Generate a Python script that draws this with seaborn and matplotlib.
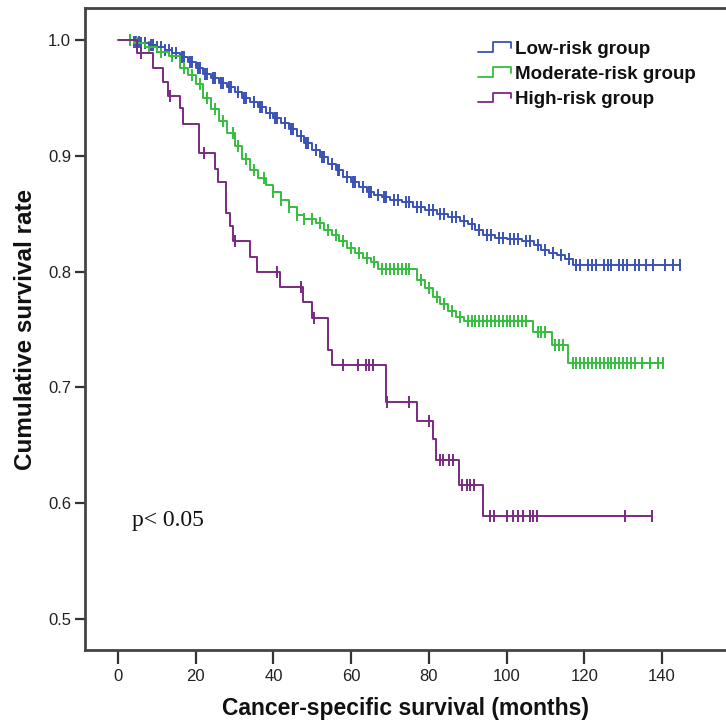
import numpy as np
import pandas as pd
import matplotlib
matplotlib.use("Agg")
import matplotlib.pyplot as plt
import seaborn as sns
from matplotlib.lines import Line2D
from matplotlib.legend_handler import HandlerBase

# ---------------- data ----------------
groups = ["Low-risk group", "Moderate-risk group", "High-risk group"]
colors = ["#3a52b8", "#35be3f", "#7a2a82"]

low_start, low_end = 2.3, 144.6
low_t = [4, 6, 8, 10, 12, 14, 16, 18, 20, 22, 24, 26, 28, 30, 32, 34, 36, 38, 40,
         42, 44, 46, 48, 50, 52, 54, 56, 58, 60, 62, 64, 66, 68, 70, 73, 76, 79,
         82, 85, 88, 90, 92, 94, 97, 100, 104, 107, 109, 111, 113, 115, 117]
low_s = [0.998, 0.997, 0.996, 0.994, 0.991, 0.989, 0.985, 0.981, 0.976, 0.971,
         0.967, 0.963, 0.959, 0.955, 0.950, 0.946, 0.942, 0.937, 0.933, 0.928,
         0.923, 0.917, 0.911, 0.905, 0.899, 0.893, 0.888, 0.882, 0.877, 0.873,
         0.869, 0.866, 0.864, 0.862, 0.860, 0.856, 0.853, 0.850, 0.847, 0.844,
         0.841, 0.836, 0.832, 0.829, 0.828, 0.826, 0.823, 0.819, 0.816, 0.814,
         0.811, 0.806]
low_cens = [3, 4, 4.5, 5.5, 6, 7, 8.5, 9, 10, 11, 12, 13, 14, 15, 16.5, 17, 18.5,
            19, 20.5, 21, 22.5, 23, 24.5, 25, 26.5, 27, 28.5, 29, 31, 32.5, 33, 35,
            36.5, 37, 39, 40.5, 41, 43, 44.5, 45, 47, 48.5, 49, 51, 52.5, 53, 55,
            56.5, 57, 59, 60.5, 61, 63, 64.5, 65, 67, 68.5, 69, 71, 72, 74, 75, 77,
            78, 80, 81, 83, 84, 86, 87, 89, 91, 93, 95, 96, 98, 99, 101, 102, 103,
            105, 106, 108, 110, 112, 114, 116, 118, 119, 121, 122, 123, 125, 126,
            127, 129, 130, 131, 133, 134, 136, 137.7, 140.8, 142.8, 144.6]

mod_start, mod_end = 2.3, 140.2
mod_t = [4, 7, 10, 13, 16, 18, 20, 22, 24, 26, 28, 30, 32, 34, 36, 38, 40, 42, 44,
         46, 48, 51, 53, 55, 57, 59, 61, 63, 65, 67, 77, 79, 81, 83, 85, 87, 89,
         106.8, 111.7, 115.8]
mod_s = [0.997, 0.994, 0.990, 0.986, 0.976, 0.970, 0.962, 0.950, 0.940, 0.930,
         0.920, 0.908, 0.897, 0.888, 0.881, 0.875, 0.869, 0.862, 0.856, 0.849,
         0.845, 0.842, 0.836, 0.832, 0.826, 0.820, 0.816, 0.812, 0.808, 0.802,
         0.793, 0.786, 0.778, 0.772, 0.766, 0.761, 0.757, 0.748, 0.737, 0.721]
mod_cens = [3, 5, 8, 11, 14, 17, 19, 21, 23, 25, 27, 29.5, 31, 33, 35, 37.5, 40,
            42, 44, 46, 48, 50, 52, 54, 56, 58, 60, 62, 64, 66, 68, 69, 70, 71, 72,
            73, 74, 75, 78, 80, 82, 84, 86, 88, 90, 91, 92, 93, 94, 95, 96, 97, 98,
            99, 100, 101, 102, 103, 104, 105, 108, 109, 110, 112.5, 113.5, 114.5,
            117, 118, 119, 120, 121, 122, 123, 124, 125, 126, 127, 128, 129, 130,
            131, 132, 133, 135, 137, 139, 140.2]

high_start, high_end = 0.0, 137.4
high_t = [4.9, 9.0, 11.6, 12.9, 16.0, 16.7, 20.8, 25.0, 25.7, 27.8, 28.8, 29.6,
          34.0, 35.8, 41.7, 47.6, 49.9, 54.0, 55.1, 69.0, 76.9, 81.1, 81.8, 87.8,
          93.9]
high_s = [0.989, 0.976, 0.964, 0.952, 0.941, 0.927, 0.902, 0.889, 0.877, 0.851,
          0.839, 0.826, 0.813, 0.800, 0.787, 0.774, 0.760, 0.732, 0.719, 0.687,
          0.671, 0.655, 0.637, 0.616, 0.589]
high_cens = [5.9, 13.4, 22.1, 30.1, 40.9, 47.1, 50.5, 57.9, 61.8, 63.8, 64.6, 65.6,
             69.2, 74.9, 80.1, 82.9, 83.6, 85.2, 86.2, 88.5, 89.8, 90.6, 91.6,
             95.7, 96.8, 100.1, 101.6, 102.9, 104.2, 106.0, 106.8, 107.8, 130.5,
             137.4]

x_ticks = [0, 20, 40, 60, 80, 100, 120, 140]
y_ticks = [0.5, 0.6, 0.7, 0.8, 0.9, 1.0]
y_tick_labels = ["0.5", "0.6", "0.7", "0.8", "0.9", "1.0"]

# ---------------- build tables ----------------
curve_rows, cens_rows = [], []
specs = [(low_start, low_end, low_t, low_s, low_cens),
         (mod_start, mod_end, mod_t, mod_s, mod_cens),
         (high_start, high_end, high_t, high_s, high_cens)]
for g, (st, en, tt, ss, cc) in zip(groups, specs):
    times = [st] + list(tt) + [en]
    survs = [1.0] + list(ss) + [ss[-1]]
    for a, b in zip(times, survs):
        curve_rows.append((g, a, b))
    tt_arr = np.array([st] + list(tt))
    ss_arr = np.array([1.0] + list(ss))
    for c in cc:
        idx = np.searchsorted(tt_arr, c, side="right") - 1
        cens_rows.append((g, c, ss_arr[max(idx, 0)]))
curves = pd.DataFrame(curve_rows, columns=["group", "time", "surv"])
cens = pd.DataFrame(cens_rows, columns=["group", "time", "surv"])

# ---------------- plot ----------------
sns.set_theme(style="white")
plt.rcParams["font.family"] = ["Liberation Sans", "DejaVu Sans"]

fig = plt.figure(figsize=(7.26, 7.21), dpi=100)
ax = fig.add_axes([85 / 726, 1 - 650 / 721, 1 - 85 / 726, (650 - 8) / 721])

pal = dict(zip(groups, colors))
for g in groups:
    d = curves[curves.group == g]
    sns.lineplot(data=d, x="time", y="surv", ax=ax, color=pal[g], lw=1.4,
                 drawstyle="steps-post", estimator=None, sort=False, legend=False)
    c = cens[cens.group == g]
    sns.scatterplot(data=c, x="time", y="surv", ax=ax, marker="|", color=pal[g],
                    s=80, linewidth=1.4, legend=False)

# axes limits (0 -> 118px, 140 -> 662px; 1.0 -> 40px, 0.5 -> 619px)
ax.set_xlim(-8.5, 156.5)
ax.set_ylim(0.4732, 1.0276)
ax.set_xticks(x_ticks)
ax.set_xticklabels([str(v) for v in x_ticks])
ax.set_yticks(y_ticks)
ax.set_yticklabels(y_tick_labels)
ax.tick_params(axis="x", direction="out", length=10, width=1.6, color="#333333",
               labelsize=12, labelcolor="#222222", pad=4, bottom=True)
ax.tick_params(axis="y", direction="out", length=7, width=1.6, color="#333333",
               labelsize=12, labelcolor="#222222", pad=3, left=True)
for side in ["left", "bottom", "top"]:
    ax.spines[side].set_visible(True)
    ax.spines[side].set_linewidth(2.0)
    ax.spines[side].set_color("#444444")
ax.spines["right"].set_visible(False)
ax.grid(False)

ax.set_xlabel("Cancer-specific survival (months)", fontsize=16.5, fontweight="bold",
              labelpad=9, color="#111111")
ax.set_ylabel("Cumulative survival rate", fontsize=17.5, fontweight="bold",
              labelpad=8, color="#111111")

ax.text(3.6, 0.585, "p< 0.05", family=["Liberation Serif", "DejaVu Serif"],
        fontsize=17, va="center", ha="left", color="#111111")


class StepHandler(HandlerBase):
    def create_artists(self, legend, orig_handle, xdescent, ydescent, width,
                       height, fontsize, trans):
        xs = np.array([0.0, 0.45, 0.45, 1.0, 1.0]) * width - xdescent
        ys = np.array([0.15, 0.15, 0.85, 0.85, 0.45]) * height - ydescent
        ln = Line2D(xs, ys, color=orig_handle.get_color(), lw=1.3)
        ln.set_transform(trans)
        return [ln]


handles = [Line2D([0], [0], color=c) for c in colors]
leg = ax.legend(handles, groups, handler_map={Line2D: StepHandler()},
                loc="upper left", bbox_to_anchor=(0.613, 0.950), frameon=False,
                borderaxespad=0, borderpad=0, handlelength=1.75, handleheight=0.75,
                handletextpad=0.25, labelspacing=0.42,
                prop={"weight": "bold", "size": 13.5})
for t in leg.get_texts():
    t.set_color("#111111")

fig.savefig("out.png", dpi=100)
